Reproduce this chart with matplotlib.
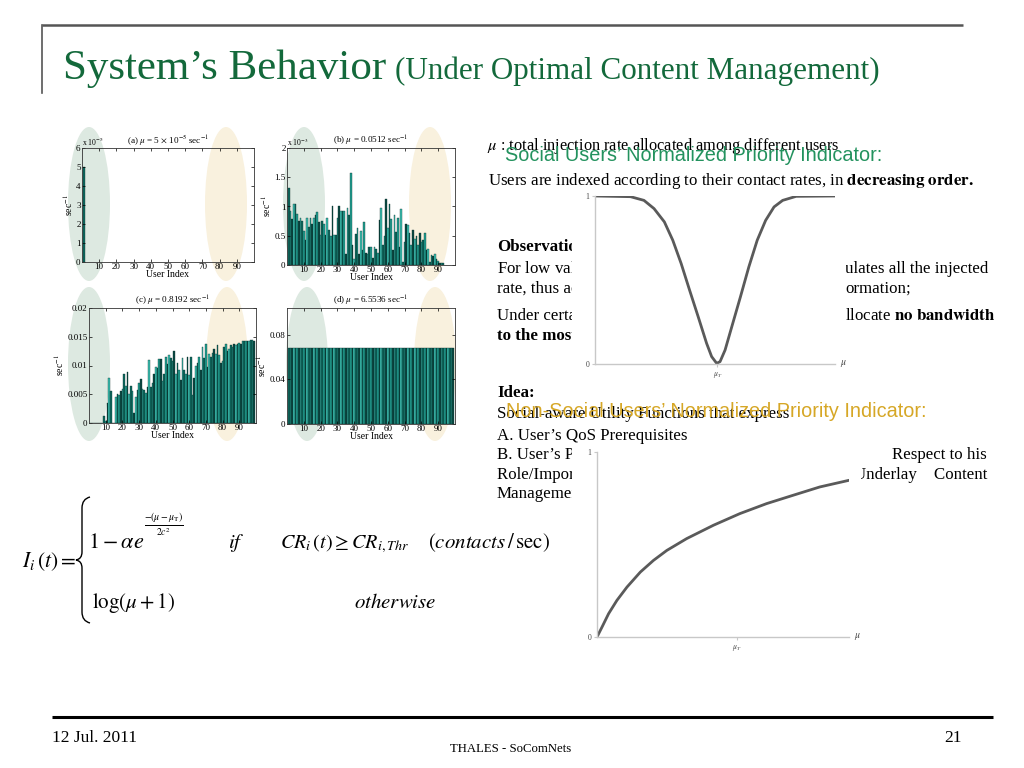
import numpy as np
import matplotlib.pyplot as plt
from matplotlib.patches import Ellipse, Rectangle, PathPatch
from matplotlib.path import Path
from matplotlib.ticker import FuncFormatter

plt.rcParams['font.family'] = ['Liberation Serif', 'DejaVu Serif']
plt.rcParams['mathtext.fontset'] = 'stix'

W, H = 1024, 768

# ---- values ----
rate_a_e5 = [5.0]          # x 10^-5 sec^-1
users_a = [1]

rate_b_e3 = [1.32, 0.93, 0.78, 1.05, 1.05, 0.87, 0.76, 0.80, 0.76, 0.58,
             0.43, 0.80, 0.65, 0.80, 0.70, 0.80, 0.85, 0.90, 0.74, 0.52,
             0.76, 0.70, 0.52, 0.80, 0.60, 0.50, 1.00, 0.52, 0.52, 0.80,
             1.00, 0.93, 0.92, 0.92, 0.18, 0.97, 0.86, 1.58, 0.35, 0.10,
             0.53, 0.63, 0.18, 0.58, 0.25, 0.73, 0.20, 0.18, 0.30, 0.30,
             0.12, 0.30, 0.27, 0.20, 0.77, 0.97, 0.35, 0.50, 1.12, 0.63,
             1.05, 0.78, 0.25, 0.85, 0.57, 0.80, 0.30, 0.95, 0.05, 0.40,
             0.70, 0.68, 0.55, 0.35, 0.60, 0.45, 0.50, 0.35, 0.55, 0.40,
             0.42, 0.55, 0.25, 0.28, 0.05, 0.17, 0.15, 0.18, 0.10, 0.06,
             0.03, 0.03, 0.03]   # x 10^-3 sec^-1
users_b = list(range(1, len(rate_b_e3) + 1))

rate_c = [0, 0, 0, 0, 0, 0, 0, 0, 0.0012, 0.0003,
          0.0035, 0.0078, 0.0055, 0, 0, 0.0045, 0.0050, 0.0048, 0.0055, 0.0060,
          0.0085, 0.0065, 0.0088, 0.0050, 0.0065, 0.0055, 0.0018, 0.0045, 0.0058, 0.0070,
          0.0077, 0.0060, 0.0058, 0.0053, 0.0063, 0.0110, 0.0063, 0.0070, 0.0085, 0.0098,
          0.0095, 0.0112, 0.0112, 0.0073, 0.0085, 0.0115, 0.0103, 0.0118, 0.0113, 0.0108,
          0.0125, 0.0085, 0.0105, 0.0093, 0.0075, 0.0113, 0.0093, 0.0085, 0.0115, 0.0083,
          0.0115, 0.0048, 0.0078, 0.0100, 0.0105, 0.0115, 0.0092, 0.0133, 0.0113, 0.0138,
          0.0098, 0.0120, 0.0115, 0.0122, 0.0128, 0.0120, 0.0135, 0.0118, 0.0105, 0.0108,
          0.0133, 0.0137, 0.0125, 0.0128, 0.0135, 0.0132, 0.0137, 0.0135, 0.0138, 0.0140,
          0.0138, 0.0142, 0.0142, 0.0143, 0.0143, 0.0143, 0.0144, 0.0144, 0.0143]
users_c = list(range(1, len(rate_c) + 1))

rate_d = [0.068] * 99
users_d = list(range(1, len(rate_d) + 1))

panel_titles = [r"(a) $\mu$ = 5 $\times$ 10$^{-5}$ sec$^{-1}$",
                r"(b) $\mu$ = 0.0512 sec$^{-1}$",
                r"(c) $\mu$ = 0.8192 sec$^{-1}$",
                r"(d) $\mu$ = 6.5536 sec$^{-1}$"]
x_ticks = [10, 20, 30, 40, 50, 60, 70, 80, 90]

# normalized priority indicators (x in units of the drawn axis)
social_x = [0.0, 0.148, 0.204, 0.246, 0.289, 0.324, 0.359, 0.394, 0.430, 0.465,
            0.486, 0.507, 0.521, 0.542, 0.570, 0.606, 0.641, 0.676, 0.711, 0.746,
            0.782, 0.838, 1.0]
social_y = [1.0, 0.996, 0.974, 0.925, 0.846, 0.737, 0.598, 0.440, 0.281, 0.123,
            0.044, 0.004, 0.014, 0.083, 0.222, 0.400, 0.578, 0.737, 0.855, 0.935,
            0.974, 0.998, 1.0]
social_mu_t = 0.51

nonsocial_x = [0.0, 0.02, 0.046, 0.079, 0.119, 0.172, 0.224, 0.277, 0.356, 0.462,
               0.567, 0.673, 0.778, 0.884, 1.0]
nonsocial_y = [0.0, 0.054, 0.126, 0.198, 0.270, 0.351, 0.414, 0.468, 0.532, 0.604,
               0.667, 0.721, 0.766, 0.811, 0.847]
nonsocial_mu_t = 0.554

bar_colors = ['#0f6b61', '#22a294', '#0b4a43', '#3cc3b5']


def rect(x0, y0, x1, y1):
    return [x0 / W, 1 - y1 / H, (x1 - x0) / W, (y1 - y0) / H]


fig = plt.figure(figsize=(W / 100, H / 100), dpi=100)
bg = fig.add_axes([0, 0, 1, 1])
bg.set_xlim(0, W)
bg.set_ylim(H, 0)
bg.axis('off')

# slide frame
bg.plot([42, 963], [25, 25], color='#555555', lw=1.8, solid_capstyle='butt')
bg.plot([42, 42], [25, 93], color='#555555', lw=1.2)
bg.plot([52, 993], [717, 717], color='black', lw=2.2, solid_capstyle='butt')

bg.text(63, 79, "System\u2019s Behavior", fontsize=31, color='#13693b')
bg.text(395, 79, "(Under Optimal Content Management)", fontsize=22.4, color='#13693b')

bg.text(52, 742, "12 Jul. 2011", fontsize=12.5)
bg.text(511, 752, "THALES - SoComNets", fontsize=9.2, ha='center')
bg.text(962, 742, "21", fontsize=12.5, ha='right')

# highlight ellipses behind the bar panels
green_e = '#dde9e1'
beige_e = '#f9f1de'
for cx, cy, col in [(89, 204, green_e), (226, 204, beige_e),
                    (304, 204, green_e), (430, 204, beige_e),
                    (89, 364, green_e), (227, 364, beige_e),
                    (307, 364, green_e), (435, 364, beige_e)]:
    bg.add_patch(Ellipse((cx, cy), 42, 154, color=col, lw=0, zorder=1))

# body text
body = 12.2
bg.text(487, 150, r"$\mu$ : total injection rate allocated among different users", fontsize=11.8)
bg.text(488, 185, r"Users are indexed according to their contact rates, in $\mathbf{decreasing\ order.}$",
        fontsize=body)
bg.text(497, 251, "Observations:", fontsize=body, fontweight='bold')
bg.text(497, 273, r"For low values of $\mu$, the most social user accum", fontsize=body)
bg.text(988, 273, "ulates all the injected", fontsize=body, ha='right')
bg.text(497, 293, "rate, thus acting as the main disseminator of inf", fontsize=body)
bg.text(845, 293, "ormation;", fontsize=body)
bg.text(497, 320, "Under certain conditions, the optimal policy may a", fontsize=body)
bg.text(995, 320, r"llocate $\mathbf{no\ bandwidth}$", fontsize=body, ha='right')
bg.text(497, 340, "to the most social users.", fontsize=body, fontweight='bold')

bg.text(497, 397, "Idea:", fontsize=body, fontweight='bold')
bg.text(497, 418, "Social-aware Utility Functions that express", fontsize=body)
bg.text(497, 440, "A. User\u2019s QoS Prerequisites", fontsize=body)
bg.text(497, 459, "B. User\u2019s Priority Indicator with", fontsize=body)
bg.text(987, 459, "Respect to his", fontsize=body, ha='right')
bg.text(497, 479, "Role/Importance in the U", fontsize=body)
bg.text(987, 479, "Underlay    Content", fontsize=body, ha='right')
bg.text(497, 498, "Management", fontsize=body)

# white picture areas covering the text
bg.add_patch(Rectangle((572, 190), 274, 184, color='white', lw=0, zorder=4))
bg.add_patch(Rectangle((572, 446), 289, 204, color='white', lw=0, zorder=4))

# formula
fs = 15
bg.text(22, 567, r"$I_i\,(t) =$", fontsize=fs + 0.5)
brace = Path([(90, 497), (82, 499), (82, 508), (82, 552), (82, 559), (76, 560),
              (82, 561), (82, 568), (82, 612), (82, 621), (90, 623)],
             [Path.MOVETO, Path.CURVE3, Path.CURVE3, Path.LINETO, Path.CURVE3, Path.CURVE3,
              Path.CURVE3, Path.CURVE3, Path.LINETO, Path.CURVE3, Path.CURVE3])
bg.add_patch(PathPatch(brace, fill=False, lw=1.0, color='black'))
bg.text(88, 548, r"$1-\alpha e$", fontsize=fs + 1)
bg.text(164, 525, r"$\frac{-(\mu-\mu_{\rm T})}{2c^2}$", fontsize=10, ha='center', va='center')
bg.text(228, 548, r"$if$", fontsize=fs)
bg.text(280, 548, r"$CR_i\,(t) \geq CR_{i,Thr}$", fontsize=fs - 0.5)
bg.text(428, 548, r"$(contacts\,/\,\mathrm{sec})$", fontsize=fs)
bg.text(92, 608, r"$\log(\mu+1)$", fontsize=fs)
bg.text(354, 608, r"$otherwise$", fontsize=fs)

# ---- the four bar panels ----
fmt = FuncFormatter(lambda v, p: "%g" % v)
panels = [
    (rect(82, 148, 254, 262), users_a, rate_a_e5, 6, [0, 1, 2, 3, 4, 5, 6], r"x 10$^{-5}$"),
    (rect(287, 148, 455, 265), users_b, rate_b_e3, 2, [0, 0.5, 1, 1.5, 2], r"x 10$^{-3}$"),
    (rect(89, 308, 256, 423), users_c, rate_c, 0.02, [0, 0.005, 0.01, 0.015, 0.02], None),
    (rect(287, 308, 455, 424), users_d, rate_d, 0.104, [0, 0.04, 0.08], None),
]
for (pos, xs, ys, ymax, yt, offset), title in zip(panels, panel_titles):
    ax = fig.add_axes(pos)
    ax.set_facecolor('none')
    cols = [bar_colors[i % len(bar_colors)] for i in range(len(xs))]
    ax.bar(xs, ys, width=1.0, color=cols, edgecolor='#082b27', linewidth=0.25)
    ax.set_xlim(0, 100)
    ax.set_ylim(0, ymax)
    ax.set_xticks(x_ticks)
    ax.set_yticks(yt)
    ax.yaxis.set_major_formatter(fmt)
    ax.tick_params(direction='in', labelsize=6.5, length=2, width=0.5,
                   top=True, right=True, pad=1)
    for s in ax.spines.values():
        s.set_linewidth(0.6)
        s.set_color('#333333')
    ax.set_xlabel("User Index", fontsize=7, labelpad=-1)
    ax.set_ylabel(r"sec$^{-1}$", fontsize=7, labelpad=1)
    ax.set_title(title, fontsize=6.6, pad=3)
    if offset:
        ax.text(0.0, 1.0, offset, transform=ax.transAxes, fontsize=5.5, va='bottom', ha='left')

# ---- priority indicator curves ----
curve_specs = [
    (rect(595, 196, 835, 364), social_x, social_y, social_mu_t),
    (rect(597, 452, 849, 637), nonsocial_x, nonsocial_y, nonsocial_mu_t),
]
for pos, xs, ys, mt in curve_specs:
    ax = fig.add_axes(pos)
    ax.set_facecolor('none')
    ax.plot(xs, ys, color='#5a5a5a', lw=2.0, solid_capstyle='round', solid_joinstyle='round')
    ax.set_xlim(0, 1.0)
    ax.set_ylim(0, 1.0)
    ax.spines['top'].set_visible(False)
    ax.spines['right'].set_visible(False)
    for s in ['left', 'bottom']:
        ax.spines[s].set_color('#c8c8c8')
        ax.spines[s].set_linewidth(1.0)
    ax.set_yticks([0, 1])
    ax.set_yticklabels(['0', '1'])
    ax.set_xticks([mt])
    ax.set_xticklabels([r'$\mu_T$'])
    ax.tick_params(labelsize=5.5, length=2, color='#c8c8c8', pad=2, labelcolor='#444444')
    ax.text(1.02, 0.0, r'$\mu$', transform=ax.transAxes, fontsize=7, color='#444444',
            ha='left', va='center')

# ---- coloured headings on top ----
top = fig.add_axes([0, 0, 1, 1], zorder=10)
top.set_xlim(0, W)
top.set_ylim(H, 0)
top.axis('off')
top.set_facecolor('none')
top.text(505, 161, "Social Users\u2019 Normalized Priority Indicator:", fontsize=14.3,
         family=['Liberation Sans', 'DejaVu Sans'], color='#23925e')
top.text(506, 417, "Non-Social Users\u2019 Normalized Priority Indicator:", fontsize=14.3,
         family=['Liberation Sans', 'DejaVu Sans'], color='#d6a726')

fig.savefig('out.png', dpi=100)
